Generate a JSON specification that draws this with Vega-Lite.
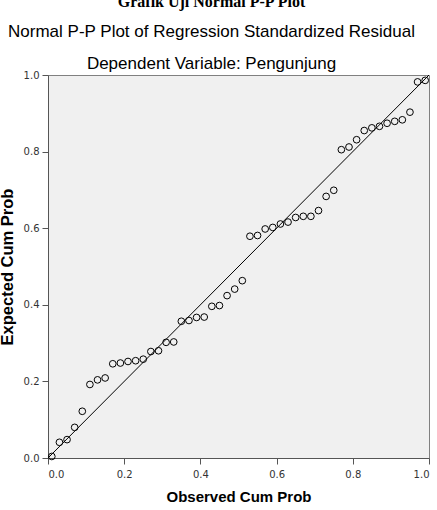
{
  "$schema": "https://vega.github.io/schema/vega-lite/v6.json",
  "autosize": "none",
  "padding": {"left": 48, "top": 75, "right": 8, "bottom": 52},
  "width": 381,
  "height": 383,
  "background": "white",
  "title": {
    "text": "Grafik Uji Normal P-P Plot",
    "subtitle": ["Normal P-P Plot of Regression Standardized Residual", "Dependent Variable: Pengunjung"],
    "font": "Liberation Serif",
    "fontSize": 16,
    "fontWeight": "bold",
    "color": "black",
    "subtitleFont": "Liberation Sans",
    "subtitleFontSize": 17,
    "subtitleColor": "black",
    "subtitleLineHeight": 32,
    "subtitlePadding": 14,
    "anchor": "middle",
    "frame": "group",
    "dx": -27,
    "offset": -2
  },
  "config": {
    "view": {"fill": "#f0f0f0", "stroke": "#808080", "strokeWidth": 1},
    "axis": {
      "grid": false,
      "domainColor": "#555555",
      "tickColor": "#555555",
      "tickSize": 6,
      "labelFont": "DejaVu Sans",
      "labelFontSize": 10,
      "labelColor": "#333333",
      "titleFont": "Liberation Sans",
      "titleFontWeight": "bold",
      "titleColor": "black"
    }
  },
  "datasets": {
    "pts": [
      {"obs": 0.01, "exp": 0.004}, {"obs": 0.03, "exp": 0.041}, {"obs": 0.05, "exp": 0.048},
      {"obs": 0.07, "exp": 0.080}, {"obs": 0.09, "exp": 0.122}, {"obs": 0.11, "exp": 0.192},
      {"obs": 0.13, "exp": 0.204}, {"obs": 0.15, "exp": 0.209}, {"obs": 0.17, "exp": 0.246},
      {"obs": 0.19, "exp": 0.248}, {"obs": 0.21, "exp": 0.252}, {"obs": 0.23, "exp": 0.254},
      {"obs": 0.25, "exp": 0.258}, {"obs": 0.27, "exp": 0.278}, {"obs": 0.29, "exp": 0.280},
      {"obs": 0.31, "exp": 0.302}, {"obs": 0.33, "exp": 0.303}, {"obs": 0.35, "exp": 0.357},
      {"obs": 0.37, "exp": 0.359}, {"obs": 0.39, "exp": 0.367}, {"obs": 0.41, "exp": 0.368},
      {"obs": 0.43, "exp": 0.396}, {"obs": 0.45, "exp": 0.398}, {"obs": 0.47, "exp": 0.424},
      {"obs": 0.49, "exp": 0.441}, {"obs": 0.51, "exp": 0.463}, {"obs": 0.53, "exp": 0.579},
      {"obs": 0.55, "exp": 0.581}, {"obs": 0.57, "exp": 0.598}, {"obs": 0.59, "exp": 0.602},
      {"obs": 0.61, "exp": 0.611}, {"obs": 0.63, "exp": 0.616}, {"obs": 0.65, "exp": 0.628},
      {"obs": 0.67, "exp": 0.631}, {"obs": 0.69, "exp": 0.631}, {"obs": 0.71, "exp": 0.646},
      {"obs": 0.73, "exp": 0.683}, {"obs": 0.75, "exp": 0.699}, {"obs": 0.77, "exp": 0.805},
      {"obs": 0.79, "exp": 0.812}, {"obs": 0.81, "exp": 0.831}, {"obs": 0.83, "exp": 0.855},
      {"obs": 0.85, "exp": 0.862}, {"obs": 0.87, "exp": 0.866}, {"obs": 0.89, "exp": 0.874},
      {"obs": 0.91, "exp": 0.879}, {"obs": 0.93, "exp": 0.883}, {"obs": 0.95, "exp": 0.903},
      {"obs": 0.97, "exp": 0.982}, {"obs": 0.99, "exp": 0.986}
    ],
    "ref": [{"obs": 0, "exp": 0}, {"obs": 1, "exp": 1}]
  },
  "layer": [
    {
      "data": {"name": "ref"},
      "mark": {"type": "line", "color": "black", "strokeWidth": 1},
      "encoding": {
        "x": {"field": "obs", "type": "quantitative", "scale": {"domain": [0, 1], "nice": false},
              "axis": {"title": "Observed Cum Prob", "values": [0, 0.2, 0.4, 0.6, 0.8, 1.0], "format": ".1f", "titlePadding": 10, "titleFontSize": 15, "labelPadding": 5}},
        "y": {"field": "exp", "type": "quantitative", "scale": {"domain": [0, 1], "nice": false},
              "axis": {"title": "Expected Cum Prob", "values": [0, 0.2, 0.4, 0.6, 0.8, 1.0], "format": ".1f", "titlePadding": 8, "titleFontSize": 16.5, "labelPadding": 3}}
      }
    },
    {
      "data": {"name": "pts"},
      "mark": {"type": "point", "shape": "circle", "filled": false, "stroke": "black", "strokeWidth": 1, "size": 45, "opacity": 1},
      "encoding": {
        "x": {"field": "obs", "type": "quantitative"},
        "y": {"field": "exp", "type": "quantitative"}
      }
    }
  ]
}
